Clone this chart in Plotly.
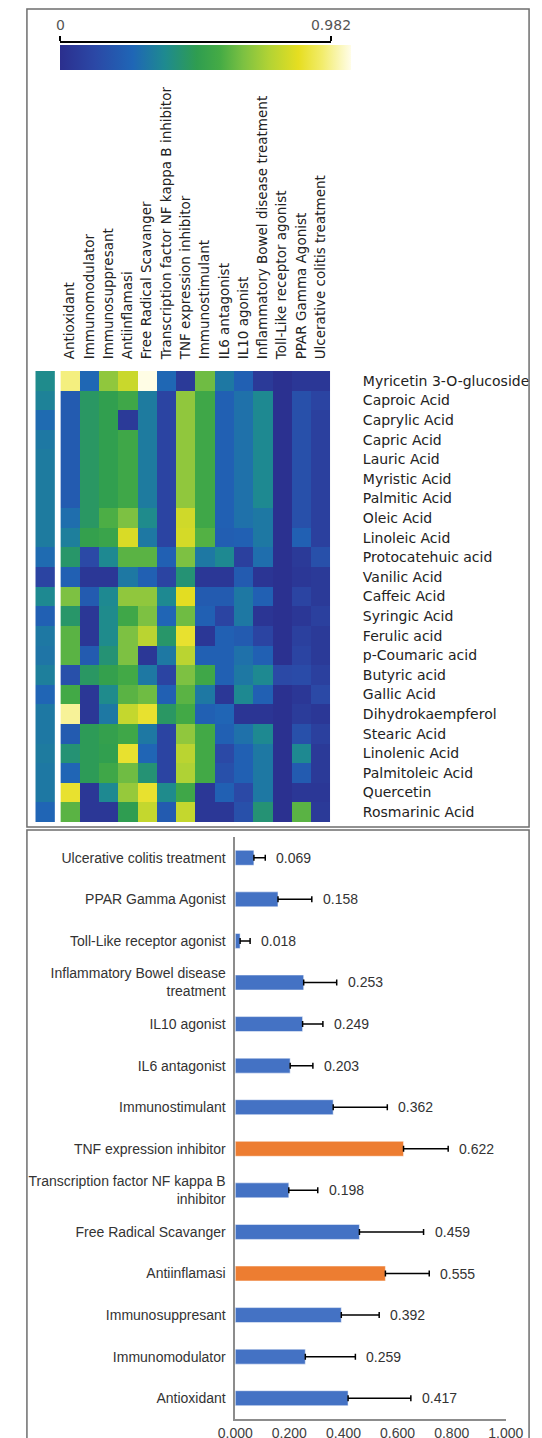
import plotly.graph_objects as go

# ---------------- data ----------------
activities = [
    "Antioxidant", "Immunomodulator", "Immunosuppresant", "Antiinflamasi",
    "Free Radical Scavanger", "Transcription factor NF kappa B inhibitor",
    "TNF expression inhibitor", "Immunostimulant", "IL6 antagonist",
    "IL10 agonist", "Inflammatory Bowel disease treatment",
    "Toll-Like receptor agonist", "PPAR Gamma Agonist",
    "Ulcerative colitis treatment",
]

compounds = [
    "Myricetin 3-O-glucoside", "Caproic Acid", "Caprylic Acid", "Capric Acid",
    "Lauric Acid", "Myristic Acid", "Palmitic Acid", "Oleic Acid",
    "Linoleic Acid", "Protocatehuic acid", "Vanilic Acid", "Caffeic Acid",
    "Syringic Acid", "Ferulic acid", "p-Coumaric acid", "Butyric acid",
    "Gallic Acid", "Dihydrokaempferol", "Stearic Acid", "Linolenic Acid",
    "Palmitoleic Acid", "Quercetin", "Rosmarinic Acid",
]

# probability values (rows = compounds, cols = activities)
pa_values = [
    [0.90, 0.25, 0.65, 0.75, 0.98, 0.25, 0.05, 0.60, 0.30, 0.22, 0.05, 0.01, 0.04, 0.04],
    [0.20, 0.43, 0.47, 0.52, 0.31, 0.10, 0.65, 0.52, 0.22, 0.28, 0.35, 0.01, 0.15, 0.10],
    [0.20, 0.43, 0.47, 0.05, 0.31, 0.10, 0.65, 0.52, 0.22, 0.28, 0.35, 0.01, 0.15, 0.08],
    [0.20, 0.43, 0.47, 0.52, 0.31, 0.10, 0.65, 0.52, 0.22, 0.28, 0.35, 0.01, 0.15, 0.08],
    [0.20, 0.43, 0.47, 0.52, 0.31, 0.10, 0.65, 0.52, 0.22, 0.28, 0.35, 0.01, 0.15, 0.08],
    [0.20, 0.43, 0.47, 0.52, 0.31, 0.10, 0.65, 0.52, 0.22, 0.28, 0.35, 0.01, 0.15, 0.08],
    [0.20, 0.43, 0.47, 0.52, 0.31, 0.10, 0.65, 0.52, 0.22, 0.28, 0.35, 0.01, 0.15, 0.08],
    [0.27, 0.43, 0.55, 0.62, 0.36, 0.10, 0.76, 0.52, 0.22, 0.28, 0.30, 0.01, 0.15, 0.08],
    [0.32, 0.48, 0.50, 0.78, 0.30, 0.10, 0.77, 0.56, 0.21, 0.22, 0.30, 0.01, 0.22, 0.08],
    [0.42, 0.12, 0.35, 0.57, 0.57, 0.22, 0.62, 0.30, 0.35, 0.08, 0.27, 0.01, 0.05, 0.15],
    [0.22, 0.04, 0.04, 0.30, 0.22, 0.10, 0.40, 0.04, 0.04, 0.20, 0.03, 0.01, 0.04, 0.05],
    [0.62, 0.20, 0.35, 0.65, 0.65, 0.35, 0.80, 0.20, 0.20, 0.30, 0.22, 0.01, 0.10, 0.05],
    [0.42, 0.04, 0.36, 0.52, 0.62, 0.24, 0.60, 0.22, 0.10, 0.30, 0.03, 0.01, 0.04, 0.08],
    [0.57, 0.04, 0.36, 0.62, 0.72, 0.42, 0.82, 0.04, 0.22, 0.20, 0.10, 0.01, 0.08, 0.05],
    [0.57, 0.20, 0.40, 0.62, 0.04, 0.30, 0.72, 0.22, 0.22, 0.28, 0.22, 0.01, 0.10, 0.05],
    [0.15, 0.43, 0.48, 0.53, 0.30, 0.10, 0.62, 0.52, 0.22, 0.30, 0.35, 0.12, 0.13, 0.08],
    [0.53, 0.04, 0.36, 0.57, 0.60, 0.22, 0.57, 0.30, 0.04, 0.35, 0.22, 0.01, 0.04, 0.12],
    [0.92, 0.04, 0.30, 0.74, 0.82, 0.43, 0.53, 0.22, 0.24, 0.03, 0.03, 0.01, 0.06, 0.04],
    [0.20, 0.45, 0.48, 0.52, 0.30, 0.10, 0.65, 0.53, 0.22, 0.28, 0.35, 0.01, 0.15, 0.08],
    [0.40, 0.45, 0.47, 0.82, 0.24, 0.10, 0.72, 0.53, 0.12, 0.22, 0.30, 0.01, 0.35, 0.05],
    [0.24, 0.45, 0.52, 0.60, 0.40, 0.10, 0.70, 0.53, 0.15, 0.22, 0.30, 0.01, 0.20, 0.05],
    [0.82, 0.04, 0.35, 0.66, 0.82, 0.36, 0.52, 0.04, 0.22, 0.12, 0.30, 0.01, 0.04, 0.04],
    [0.57, 0.04, 0.04, 0.46, 0.74, 0.20, 0.74, 0.04, 0.04, 0.15, 0.40, 0.01, 0.57, 0.05],
]

# separate summary column at the left of the heatmap
row_summary = [0.36, 0.33, 0.26, 0.30, 0.31, 0.31, 0.31, 0.31, 0.31, 0.26, 0.10, 0.35,
               0.22, 0.30, 0.29, 0.32, 0.24, 0.30, 0.30, 0.31, 0.30, 0.30, 0.24]

scale_min = 0
scale_max = 0.982

# bar chart: mean and standard deviation per activity
mean_values = [0.417, 0.259, 0.392, 0.555, 0.459, 0.198, 0.622, 0.362, 0.203,
               0.249, 0.253, 0.018, 0.158, 0.069]
sd_values = [0.232, 0.185, 0.140, 0.162, 0.237, 0.107, 0.165, 0.200, 0.084,
             0.075, 0.122, 0.037, 0.125, 0.042]
highlighted = ["Antiinflamasi", "TNF expression inhibitor"]

bar_labels = {
    "Transcription factor NF kappa B inhibitor": "Transcription factor NF kappa B<br>inhibitor",
    "Inflammatory Bowel disease treatment": "Inflammatory Bowel disease<br>treatment",
}
bar_ticks = [0.0, 0.2, 0.4, 0.6, 0.8, 1.0]

# ---------------- style ----------------
W, H = 542, 1438


def px(x):
    return x / W


def py(y):
    return 1 - y / H


colorscale = [
    [0.00, "#2b2f8e"], [0.12, "#2b48a6"], [0.25, "#1f66b6"], [0.36, "#1e8a90"],
    [0.47, "#2f9d50"], [0.55, "#45ab45"], [0.63, "#7cc142"], [0.72, "#b3d334"],
    [0.82, "#e6de21"], [0.90, "#f2ec6a"], [1.00, "#fffde8"],
]

HM_FONT = "DejaVu Sans"
BAR_FONT = "Liberation Sans"
BLUE = "#4472C4"
ORANGE = "#ED7D31"

fig = go.Figure()

# main heatmap
fig.add_trace(go.Heatmap(
    z=pa_values, x=activities, y=compounds,
    colorscale=colorscale, zmin=scale_min, zmax=scale_max,
    xaxis="x", yaxis="y", hoverongaps=False,
    colorbar=dict(
        orientation="h", x=px(37), xanchor="left", y=py(37), yanchor="top",
        len=291, lenmode="pixels", thickness=25, thicknessmode="pixels",
        xpad=0, ypad=0, outlinewidth=0, showticklabels=False, ticks="",
    ),
))

# summary column
fig.add_trace(go.Heatmap(
    z=[[v] for v in row_summary], x=["summary"], y=compounds,
    colorscale=colorscale, zmin=scale_min, zmax=scale_max,
    xaxis="x2", yaxis="y", showscale=False,
))

# colour-scale axis (ticks 0 and 0.982 above colour bar)
fig.add_trace(go.Scatter(
    x=[scale_min, scale_max], y=[0, 0], mode="markers",
    marker=dict(opacity=0), xaxis="x3", yaxis="y3",
    hoverinfo="skip", showlegend=False,
))

# bar chart
bar_colors = [ORANGE if a in highlighted else BLUE for a in activities]
fig.add_trace(go.Bar(
    x=mean_values, y=activities, orientation="h",
    marker=dict(color=bar_colors, line=dict(color="rgba(255,255,255,0.5)", width=1)),
    width=0.36,
    error_x=dict(type="data", array=sd_values, arrayminus=[0] * len(sd_values),
                 symmetric=False, color="black", thickness=1.5, width=3),
    xaxis="x4", yaxis="y4", showlegend=False,
))

annotations = []
for a, m, s in zip(activities, mean_values, sd_values):
    annotations.append(dict(
        x=m + s, y=a, xref="x4", yref="y4", text=f"{m:.3f}",
        showarrow=False, xanchor="left", xshift=9,
        font=dict(family=BAR_FONT, size=14, color="#333333"),
    ))

shapes = [
    dict(type="rect", xref="paper", yref="paper", x0=px(1), x1=px(541),
         y0=py(1), y1=py(819), line=dict(color="#6e6e6e", width=1.5)),
    dict(type="rect", xref="paper", yref="paper", x0=px(1), x1=px(541),
         y0=py(822), y1=py(1437), line=dict(color="#6e6e6e", width=1.5)),
]

transparent = "rgba(0,0,0,0)"

fig.update_layout(
    width=W, height=H,
    margin=dict(l=0, r=0, t=0, b=0),
    paper_bgcolor="white", plot_bgcolor="white",
    showlegend=False,
    annotations=annotations,
    shapes=shapes,
    xaxis=dict(
        domain=[px(37), px(327)], anchor="y", side="top", tickangle=-90,
        ticks="outside", ticklen=8, tickcolor=transparent,
        tickfont=dict(family=HM_FONT, size=13.5, color="#222222"),
        showgrid=False, zeroline=False, showline=False,
    ),
    yaxis=dict(
        domain=[py(814), py(363)], anchor="x", side="right", autorange="reversed",
        ticks="outside", ticklen=29, tickcolor=transparent,
        tickfont=dict(family=HM_FONT, size=14, color="#222222"),
        showgrid=False, zeroline=False, showline=False,
    ),
    xaxis2=dict(domain=[px(10), px(31)], anchor="y", visible=False),
    xaxis3=dict(
        domain=[px(37), px(328)], anchor="y3", side="top",
        range=[scale_min, scale_max],
        tickvals=[scale_min, scale_max], ticktext=["0", "0.982"],
        showline=True, linecolor="black", linewidth=2,
        ticks="outside", ticklen=5, tickwidth=2, tickcolor="black",
        tickfont=dict(family=HM_FONT, size=14, color="#555555"),
        showgrid=False, zeroline=False,
    ),
    yaxis3=dict(domain=[py(36), py(35)], anchor="x3", visible=False, range=[0, 1]),
    xaxis4=dict(
        domain=[px(225), px(516)], anchor="y4", range=[0, 1.0],
        tickvals=bar_ticks, tickformat=".3f", ticks="",
        showline=True, linecolor="#8c8c8c", linewidth=1.5,
        showgrid=False, zeroline=False,
        tickfont=dict(family=BAR_FONT, size=14, color="#404040"),
    ),
    yaxis4=dict(
        domain=[py(1411), py(829)], anchor="x4", type="category",
        categoryorder="array", categoryarray=activities,
        range=[-0.5, len(activities) - 0.5],
        tickvals=activities, ticktext=[bar_labels.get(a, a) for a in activities],
        ticks="outside", ticklen=5, tickcolor=transparent,
        showline=True, linecolor="#8c8c8c", linewidth=1.5,
        showgrid=False, zeroline=False,
        tickfont=dict(family=BAR_FONT, size=14, color="#333333"),
    ),
)

fig.write_html("out.html")
